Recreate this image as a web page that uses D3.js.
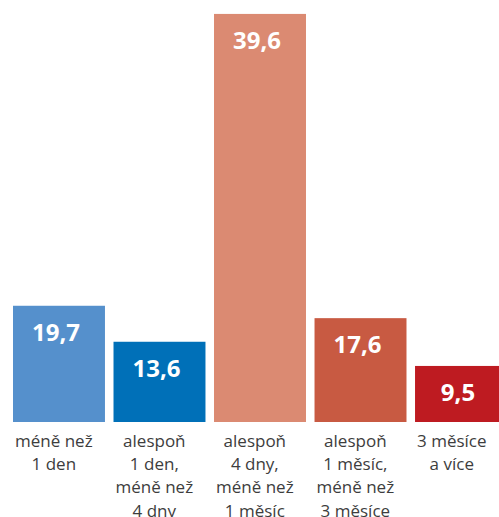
<!DOCTYPE html>
<html>
<head>
<meta charset="utf-8">
<script src="https://cdn.jsdelivr.net/npm/d3@7"></script>
<style>
  body { margin: 0; background: #fff; }
  svg { display: block; }
</style>
</head>
<body>
<script>
// data
var categories = ["c1", "c2", "c3", "c4", "c5"];
var values = [19.7, 13.6, 39.6, 17.6, 9.5];
var valueLabels = ["19,7", "13,6", "39,6", "17,6", "9,5"];
var categoryLines = [
  ["méně než", "1 den"],
  ["alespoň", "1 den,", "méně než", "4 dny"],
  ["alespoň", "4 dny,", "méně než", "1 měsíc"],
  ["alespoň", "1 měsíc,", "méně než", "3 měsíce"],
  ["3 měsíce", "a více"]
];
var colors = ["#5590cc", "#0070b8", "#db8a72", "#c85a42", "#be1b21"];

var svg_width = 499;
var svg_height = 517;

var svg = d3.select("body")
  .append("svg")
  .attr("width", svg_width)
  .attr("height", svg_height);

var baseline = 422;

// last bar runs past the right edge, as in the original
var xScale = d3.scaleBand()
  .domain(categories)
  .range([13, 507])
  .paddingInner(0.085)
  .paddingOuter(0);

// the original draws the tallest bar taller than its share, so the scale has a bend at 20
var yScale = d3.scaleLinear()
  .domain([0, 20, 40])
  .range([baseline, 304, 8]);

svg.selectAll(".bar")
  .data(values)
  .enter()
  .append("rect")
  .attr("class", "bar")
  .attr("x", (d, i) => xScale(categories[i]))
  .attr("y", d => yScale(d))
  .attr("width", xScale.bandwidth())
  .attr("height", d => baseline - yScale(d))
  .attr("fill", (d, i) => colors[i]);

svg.selectAll(".val")
  .data(values)
  .enter()
  .append("text")
  .attr("class", "val")
  .attr("x", (d, i) => xScale(categories[i]) + xScale.bandwidth() / 2 - 3)
  .attr("y", d => yScale(d) + 35)
  .attr("text-anchor", "middle")
  .style("font-family", "'Open Sans', sans-serif")
  .style("font-weight", "700")
  .style("font-size", "24px")
  .style("fill", "#fff")
  .text((d, i) => valueLabels[i]);

// category labels, lines centred in a block that starts at the bar's left edge
categoryLines.forEach(function(lines, i) {
  var g = svg.append("g");
  var t = g.append("text")
    .attr("text-anchor", "middle")
    .style("font-family", "'Open Sans', sans-serif")
    .style("font-size", "17px")
    .style("fill", "#3d3d3d");
  t.selectAll("tspan")
    .data(lines)
    .enter()
    .append("tspan")
    .attr("x", 0)
    .attr("y", (d, j) => 447 + j * 23.2)
    .text(d => d);
  var maxW = 0;
  t.selectAll("tspan").each(function() {
    maxW = Math.max(maxW, this.getComputedTextLength());
  });
  var left = xScale(categories[i]) + 2;
  g.attr("transform", `translate(${left + maxW / 2}, 0)`);
});
</script>
</body>
</html>
